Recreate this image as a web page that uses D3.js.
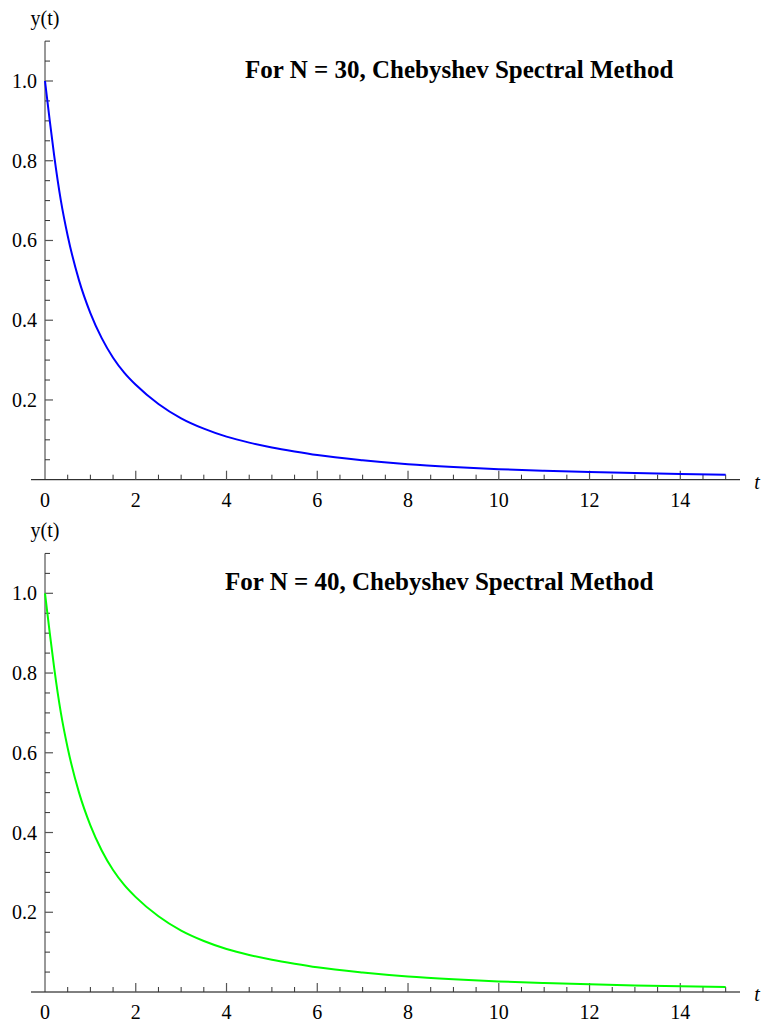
<!DOCTYPE html>
<html>
<head>
<meta charset="utf-8">
<script src="https://cdn.jsdelivr.net/npm/d3@7"></script>
<style>
  html, body { margin: 0; padding: 0; background: #fff; }
  svg { display: block; }
  text { font-family: "Liberation Serif", "Times New Roman", serif; fill: #000; }
</style>
</head>
<body>
<svg id="chart" width="765" height="1028"></svg>
<script>
// Sample times t and solution values y(t)
const tValues = [0, 0.1, 0.2, 0.35, 0.5, 0.75, 1, 1.25, 1.5, 1.75, 2, 2.5, 3, 3.5, 4, 4.5, 5, 5.5, 6, 7, 8, 9, 10, 11, 12, 13, 14, 15];
const yN30 = [1.0, 0.905, 0.815, 0.70, 0.612, 0.50, 0.418, 0.355, 0.306, 0.268, 0.238, 0.190, 0.154, 0.128, 0.108, 0.093, 0.081, 0.071, 0.062, 0.049, 0.039, 0.032, 0.0265, 0.0225, 0.0192, 0.0166, 0.0145, 0.0127];
const yN40 = [1.0, 0.905, 0.815, 0.70, 0.612, 0.50, 0.418, 0.355, 0.306, 0.268, 0.238, 0.190, 0.154, 0.128, 0.108, 0.093, 0.081, 0.071, 0.062, 0.049, 0.039, 0.032, 0.0265, 0.0225, 0.0192, 0.0166, 0.0145, 0.0127];

const xMajorTicks = [0, 2, 4, 6, 8, 10, 12, 14];
const yMajorTicks = [0.2, 0.4, 0.6, 0.8, 1.0];

const panels = [
  { title: "For N = 30, Chebyshev Spectral Method", values: yN30, color: "#0000ff", top: 0, titleX: 245 },
  { title: "For N = 40, Chebyshev Spectral Method", values: yN40, color: "#00ff00", top: 512.3, titleX: 225 }
];

const svg = d3.select("#chart");
const fontSize = 20;

const x = d3.scaleLinear().domain([0, 14]).range([45, 680.3]);

panels.forEach(p => {
  const g = svg.append("g").attr("transform", `translate(0,${p.top})`);
  const y = d3.scaleLinear().domain([0, 1.0]).range([479.7, 81]);

  // x axis line
  g.append("line")
    .attr("x1", 31).attr("x2", 740)
    .attr("y1", y(0)).attr("y2", y(0))
    .attr("stroke", "#000").attr("stroke-width", 1);

  // y axis line
  g.append("line")
    .attr("x1", x(0)).attr("x2", x(0))
    .attr("y1", y(0)).attr("y2", y(1.1))
    .attr("stroke", "#333").attr("stroke-width", 1);

  // x ticks (minor every 0.5, major every 2)
  const xMinor = d3.range(0.5, 15.01, 0.5).filter(v => Math.abs(v % 2) > 1e-6);
  g.selectAll(".xminor").data(xMinor).enter().append("line")
    .attr("x1", d => x(d)).attr("x2", d => x(d))
    .attr("y1", y(0)).attr("y2", y(0) - 5)
    .attr("stroke", "#333").attr("stroke-width", 1);
  g.selectAll(".xmajor").data(xMajorTicks.filter(d => d > 0)).enter().append("line")
    .attr("x1", d => x(d)).attr("x2", d => x(d))
    .attr("y1", y(0)).attr("y2", y(0) - 9)
    .attr("stroke", "#555").attr("stroke-width", 1.2);

  // y ticks (minor every 0.05, major every 0.2)
  const yMinor = d3.range(1, 23).map(i => i * 0.05).filter(v => Math.abs((v / 0.2) - Math.round(v / 0.2)) > 1e-6);
  g.selectAll(".yminor").data(yMinor).enter().append("line")
    .attr("x1", x(0)).attr("x2", x(0) + 5)
    .attr("y1", d => y(d)).attr("y2", d => y(d))
    .attr("stroke", "#333").attr("stroke-width", 1);
  g.selectAll(".ymajor").data(yMajorTicks).enter().append("line")
    .attr("x1", x(0)).attr("x2", x(0) + 8)
    .attr("y1", d => y(d)).attr("y2", d => y(d))
    .attr("stroke", "#555").attr("stroke-width", 1.2);

  // tick labels
  g.selectAll(".xlab").data(xMajorTicks).enter().append("text")
    .attr("x", d => x(d)).attr("y", y(0) + 27.5)
    .attr("text-anchor", "middle")
    .attr("font-size", fontSize)
    .text(d => d);
  g.selectAll(".ylab").data(yMajorTicks).enter().append("text")
    .attr("x", 37).attr("y", d => y(d) + 7)
    .attr("text-anchor", "end")
    .attr("font-size", fontSize)
    .text(d => d.toFixed(1));

  // axis labels
  g.append("text").attr("x", 45).attr("y", 25)
    .attr("text-anchor", "middle").attr("font-size", fontSize)
    .text("y(t)");
  g.append("text").attr("x", 757).attr("y", 488.5)
    .attr("text-anchor", "middle").attr("font-size", fontSize)
    .attr("font-style", "italic")
    .text("t");

  // title
  g.append("text").attr("x", p.titleX).attr("y", 78)
    .attr("font-size", 25).attr("font-weight", "bold")
    .text(p.title);

  // solution curve
  const line = d3.line()
    .x((d, i) => x(tValues[i]))
    .y(d => y(d))
    .curve(d3.curveMonotoneX);
  g.append("path")
    .datum(p.values)
    .attr("d", line)
    .attr("fill", "none")
    .attr("stroke", p.color)
    .attr("stroke-width", 2);
});
</script>
</body>
</html>
